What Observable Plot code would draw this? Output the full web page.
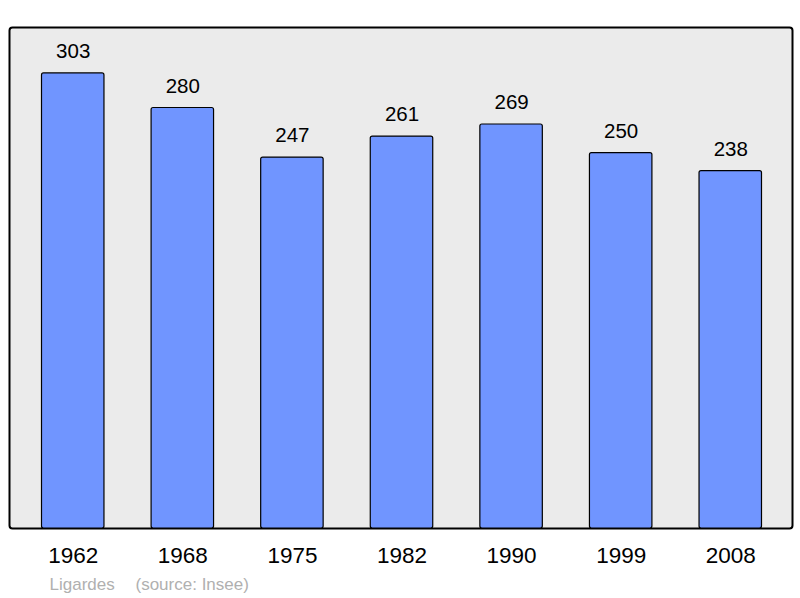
<!DOCTYPE html>
<html>
<head>
<meta charset="utf-8">
<script src="https://cdn.jsdelivr.net/npm/d3@7"></script>
<script src="https://cdn.jsdelivr.net/npm/@observablehq/plot@0.6"></script>
<style>
  html, body { margin: 0; padding: 0; background: #ffffff; }
</style>
</head>
<body>
<div id="chart"></div>
<script>
const years = ["1962", "1968", "1975", "1982", "1990", "1999", "2008"];
const populations = [303, 280, 247, 261, 269, 250, 238];
const commune = "Ligardes";
const source = "(source: Insee)";

const data = years.map((year, i) => ({ year, population: populations[i] }));

const chart = Plot.plot({
  width: 800,
  height: 598,
  marginLeft: 9,
  marginRight: 8,
  marginTop: 27,
  marginBottom: 70,
  style: { fontFamily: "'Liberation Sans', Arial, sans-serif", background: "#ffffff", color: "#000" },
  x: { type: "band", domain: years, range: [41.5, 761.5], paddingInner: 0.43, paddingOuter: 0, round: false, axis: null },
  y: { domain: [0, 333.6], axis: null },
  marks: [
    Plot.frame({ fill: "#ebebeb", stroke: "#000", strokeWidth: 2, rx: 3 }),
    Plot.barY(data, { x: "year", y: "population", fill: "#7095ff", stroke: "#000", strokeWidth: 1.2, rx: 2 }),
    Plot.text(data, { x: "year", y: "population", text: d => String(d.population), dy: -22, fontSize: 20.5, fill: "#000" }),
    Plot.text(data, { x: "year", frameAnchor: "bottom", text: "year", dy: 34, fontSize: 22.5, fill: "#000" }),
    Plot.text([commune], { frameAnchor: "bottom-left", text: d => d, dx: 40, dy: 61, fontSize: 17, fill: "#b0b0b0", textAnchor: "start" }),
    Plot.text([source], { frameAnchor: "bottom-left", text: d => d, dx: 126, dy: 61, fontSize: 17, fill: "#b0b0b0", textAnchor: "start" })
  ]
});

document.getElementById("chart").appendChild(chart);
</script>
</body>
</html>
